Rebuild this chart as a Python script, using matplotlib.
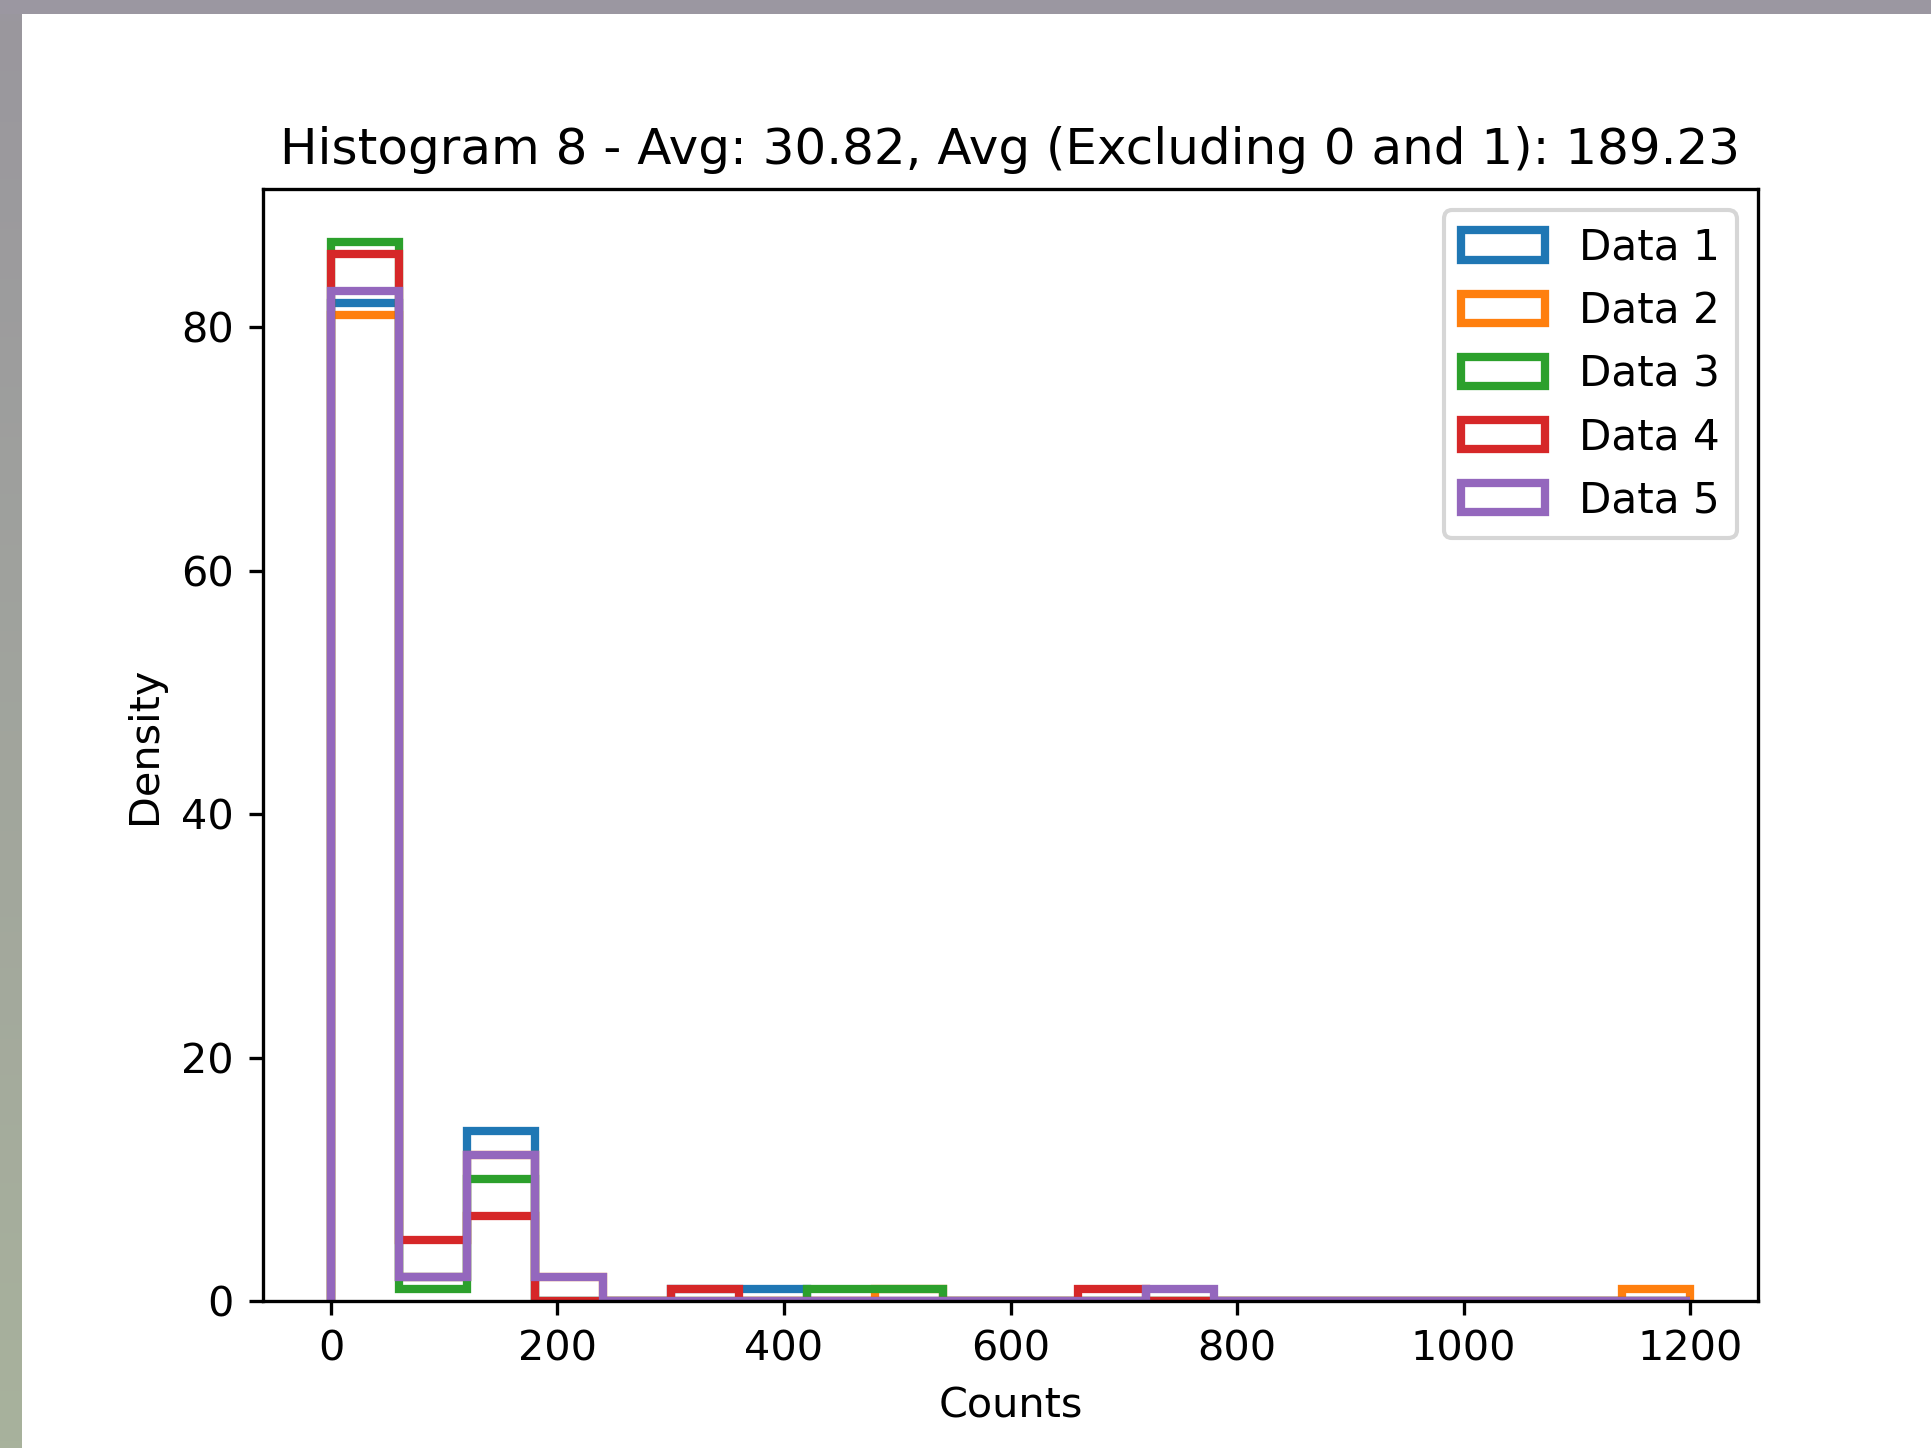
import numpy as np
import matplotlib
matplotlib.use("Agg")
import matplotlib.pyplot as plt
from matplotlib.patches import Rectangle

# bin edges: 0..1200, width 60
edges = np.arange(0, 1201, 60)
centers = (edges[:-1] + edges[1:]) / 2.

labels = ["Data 1", "Data 2", "Data 3", "Data 4", "Data 5"]

data1 = [82, 2, 14, 0, 0, 1, 1, 0, 0, 0, 0, 0, 0, 0, 0, 0, 0, 0, 0, 0]
data2 = [81, 2, 12, 2, 0, 0, 0, 0, 1, 0, 0, 0, 0, 0, 0, 0, 0, 0, 0, 1]
data3 = [87, 1, 10, 0, 0, 0, 0, 1, 1, 0, 0, 0, 0, 0, 0, 0, 0, 0, 0, 0]
data4 = [86, 5, 7, 0, 0, 1, 0, 0, 0, 0, 0, 1, 0, 0, 0, 0, 0, 0, 0, 0]
data5 = [83, 2, 12, 2, 0, 0, 0, 0, 0, 0, 0, 0, 1, 0, 0, 0, 0, 0, 0, 0]

title = "Histogram 8 - Avg: 30.82, Avg (Excluding 0 and 1): 189.23"

W, H = 1931, 1448
DPI = 298
fig = plt.figure(figsize=(W / DPI, H / DPI), dpi=DPI)
fig.patch.set_facecolor("#9b97a1")

# white "window" area behind the plot
fig.patches.append(Rectangle((22 / W, 0), 1 - 22 / W, 1 - 14 / H,
                             transform=fig.transFigure, facecolor="white",
                             edgecolor="none", zorder=-5))

# left strip with gradient
sax = fig.add_axes([0, 0, 22 / W, 1 - 14 / H])
top_c = np.array([154, 151, 158]) / 255.
bot_c = np.array([168, 178, 156]) / 255.
t = np.linspace(0, 1, 200)[:, None]
grad = (top_c[None, :] * (1 - t) + bot_c[None, :] * t)[:, None, :]
sax.imshow(grad, aspect="auto", extent=(0, 1, 0, 1))
sax.axis("off")

ax = fig.add_axes([263 / W, 1 - 1301 / H, (1758 - 263) / W, (1301 - 189) / H])
# one call per dataset so later ones sit on top
for d, lab in zip([data1, data2, data3, data4, data5], labels):
    ax.hist(centers, bins=edges, weights=d, histtype="step", linewidth=2, label=lab)
ax.set_title(title, fontsize=12.1)
ax.set_xlabel("Counts")
ax.set_ylabel("Density")
ax.legend(loc="upper right", fontsize=10.2)

fig.savefig("out.png", dpi=DPI, facecolor=fig.get_facecolor())
